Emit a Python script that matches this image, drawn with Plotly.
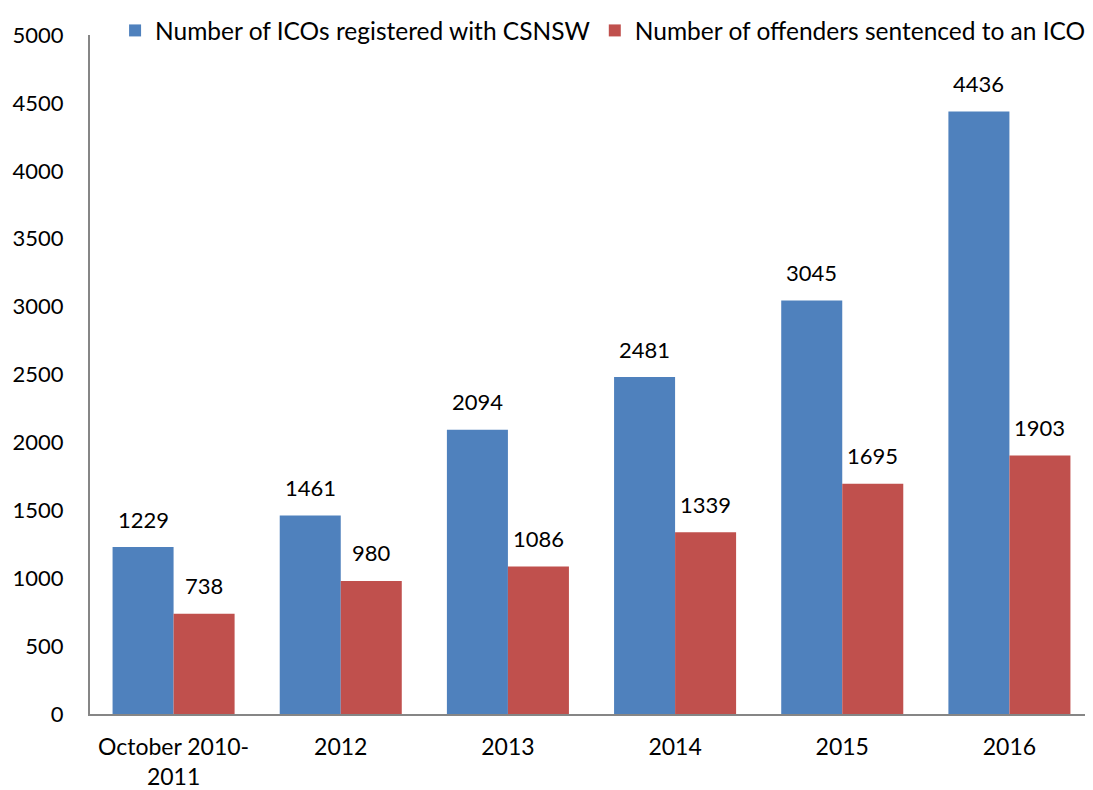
import plotly.graph_objects as go

categories = ["October 2010-<br>2011", "2012", "2013", "2014", "2015", "2016"]
icos_registered = [1229, 1461, 2094, 2481, 3045, 4436]
offenders_sentenced = [738, 980, 1086, 1339, 1695, 1903]
y_ticks = list(range(0, 5001, 500))

FONT = "Lato, Carlito, Calibri, sans-serif"
BLUE = "#4F81BD"
RED = "#C0504D"

fig = go.Figure()
fig.add_trace(go.Bar(x=categories, y=icos_registered, name="Number of ICOs registered with CSNSW",
                     marker=dict(color=BLUE, line=dict(width=0))))
fig.add_trace(go.Bar(x=categories, y=offenders_sentenced, name="Number of offenders sentenced to an ICO",
                     marker=dict(color=RED, line=dict(width=0))))

for i in range(len(categories)):
    for vals, shift in ((icos_registered, -30.5), (offenders_sentenced, 30.5)):
        fig.add_annotation(x=i, y=vals[i], text=str(vals[i]), showarrow=False,
                           xshift=shift, yshift=28, font=dict(size=22, color="black", family=FONT))

fig.update_layout(
    width=1085, height=782,
    margin=dict(l=82, r=0, t=24, b=76),
    paper_bgcolor="white", plot_bgcolor="white",
    font=dict(family=FONT, size=22, color="black"),
    barmode="group", bargap=0.27, bargroupgap=0,
    showlegend=True,
    legend=dict(orientation="h", x=0.025, y=1.007, xanchor="left", yanchor="middle",
                font=dict(size=24.5, family=FONT), itemwidth=30, traceorder="normal",
                bgcolor="rgba(0,0,0,0)"),
)
fig.update_xaxes(type="category", range=[-0.5, 5.5], showline=True, linecolor="#868686", linewidth=2,
                 ticks="", showgrid=False, automargin=False, ticklabelstandoff=11,
                 tickfont=dict(size=23, family=FONT))
fig.update_yaxes(range=[0, 5000], tickvals=y_ticks, showline=True, linecolor="#868686", linewidth=2,
                 ticks="", showgrid=False, zeroline=False, ticklabelstandoff=20, automargin=False,
                 tickfont=dict(size=22, family=FONT))

fig.write_html("out.html")
